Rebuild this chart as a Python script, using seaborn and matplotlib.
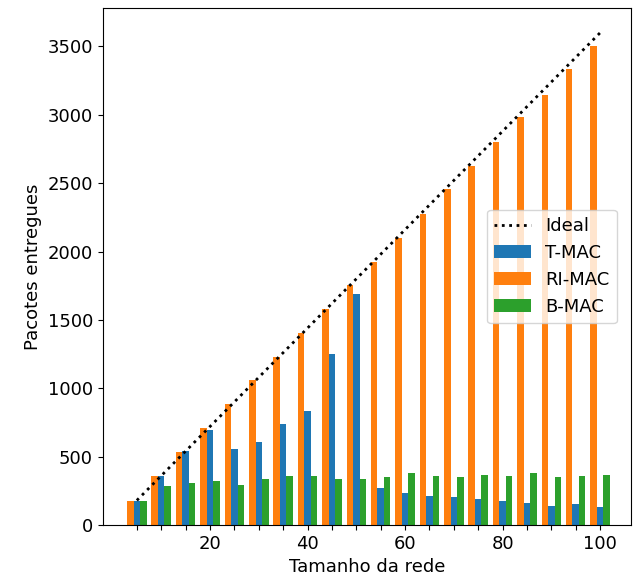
import numpy as np
import pandas as pd
import matplotlib
matplotlib.use('Agg')
import matplotlib.pyplot as plt
import seaborn as sns

# dados
tamanho = [5, 10, 15, 20, 25, 30, 35, 40, 45, 50, 55, 60, 65, 70, 75, 80, 85, 90, 95, 100]
ideal = [180, 360, 540, 720, 900, 1080, 1260, 1440, 1620, 1800,
         1980, 2160, 2340, 2520, 2700, 2880, 3060, 3240, 3420, 3600]
t_mac = [175, 355, 538, 696, 555, 608, 735, 837, 1253, 1686,
         268, 236, 214, 204, 188, 175, 158, 139, 153, 134]
ri_mac = [175, 356, 533, 711, 882, 1057, 1230, 1405, 1582, 1757,
          1922, 2102, 2277, 2455, 2623, 2803, 2983, 3146, 3333, 3500]
b_mac = [172, 287, 304, 323, 294, 338, 355, 360, 336, 336,
         348, 377, 360, 353, 363, 358, 380, 348, 355, 363]

cores = {'T-MAC': '#1f77b4', 'RI-MAC': '#ff7f0e', 'B-MAC': '#2ca02c'}

df = pd.DataFrame({
    'Tamanho da rede': tamanho * 3,
    'Pacotes entregues': ri_mac + t_mac + b_mac,
    'Protocolo': ['RI-MAC'] * 20 + ['T-MAC'] * 20 + ['B-MAC'] * 20,
})

plt.rcParams['font.size'] = 13
fig, ax = plt.subplots(figsize=(6.34, 5.83), dpi=100)
fig.subplots_adjust(left=0.162, right=0.995, bottom=0.0995, top=0.986)

ax.plot(tamanho, ideal, color='black', linestyle=':', linewidth=2, label='Ideal')
sns.barplot(data=df, x='Tamanho da rede', y='Pacotes entregues', hue='Protocolo',
            hue_order=['RI-MAC', 'T-MAC', 'B-MAC'], palette=cores,
            native_scale=True, saturation=1, errorbar=None, ax=ax)

ax.set_xticks(tamanho)
ax.set_xticklabels([str(t) if t % 20 == 0 else '' for t in tamanho])
ax.set_xlim(-2.0, 106.3)
ax.set_yticks(range(0, 3501, 500))
ax.set_xlabel('Tamanho da rede')
ax.set_ylabel('Pacotes entregues')

handles, labels = ax.get_legend_handles_labels()
ordem = ['Ideal', 'T-MAC', 'RI-MAC', 'B-MAC']
h = [handles[labels.index(l)] for l in ordem]
ax.legend(h, ordem, loc='center right', bbox_to_anchor=(0.99, 0.5))

plt.savefig('out.png', dpi=100)
